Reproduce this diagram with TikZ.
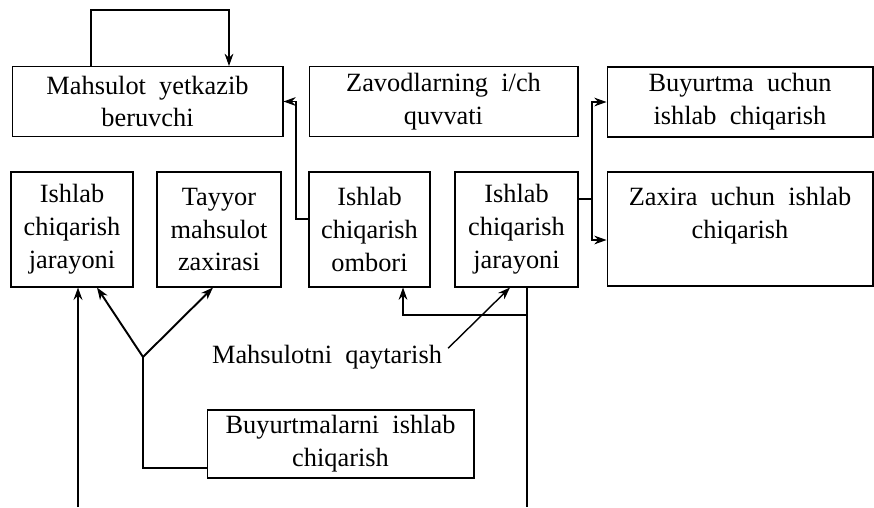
\documentclass[tikz,border=0pt]{standalone}
\usepackage{fontspec}
\setmainfont{Liberation Serif}
\usetikzlibrary{arrows.meta}

\newcommand{\widespace}{\spaceskip=0.5em plus 0.1em\relax}

\tikzset{
  box/.style={draw, line width=0.6pt, align=center, inner sep=2pt},
  wide/.style={box, minimum width=5.38cm, minimum height=1.40cm},
  tall/.style={box, minimum width=2.44cm, minimum height=2.30cm},
  conn/.style={line width=0.6pt},
  arr/.style={conn, -{Stealth[length=7pt,width=5pt]}},
  heavy/.style={line width=1.1pt, -{Stealth[length=7pt,width=5pt]}},
}

\begin{document}
\begin{tikzpicture}[x=0.02cm, y=-0.02cm,
    font=\fontsize{15}{18.7}\selectfont\widespace]
  \useasboundingbox (0,0) rectangle (874,507);

  % top row
  \node[wide, minimum width=5.42cm] (supplier) at (147.5,101.5) {Mahsulot yetkazib\\beruvchi};
  \node[wide] (capacity) at (443.5,101.5) {Zavodlarning i/ch\\quvvati};
  \node[wide, minimum width=5.32cm] (order) at (740,102) {Buyurtma uchun\\ishlab chiqarish};

  % middle row
  \node[tall] (procL) at (72,229.5) {Ishlab\\chiqarish\\jarayoni};
  \node[tall, minimum width=2.48cm] (ready) at (219,229.5) {Tayyor\\mahsulot\\zaxirasi};
  \node[tall, minimum width=2.42cm] (store) at (369.5,229.5) {Ishlab\\chiqarish\\ombori};
  \node[tall, minimum width=2.46cm] (procR) at (516.5,229.5) {Ishlab\\chiqarish\\jarayoni};
  \node[box, minimum width=5.32cm, minimum height=2.28cm] (stock) at (740,229)
    {Zaxira uchun ishlab\\chiqarish\\\mbox{}};

  % bottom
  \node (ret) at (327,357) {Mahsulotni qaytarish};
  \node[wide, minimum width=5.34cm, minimum height=1.36cm] (orders) at (340.5,444)
    {Buyurtmalarni ishlab\\chiqarish};

  % helper points
  \coordinate (loopL) at (91,10);
  \coordinate (loopR) at (229,10);
  \coordinate (jL) at (296,219);
  \coordinate (jR) at (592,199);
  \coordinate (jS) at (592,240);
  \coordinate (fork) at (143,357);
  \coordinate (forkB) at (143,468);
  \coordinate (botL) at (78,507);
  \coordinate (botR) at (527,507);
  \coordinate (jB) at (527,315);
  \coordinate (jB2) at (403,315);

  % connectors
  \draw[arr] (supplier.north -| loopL) -- (loopL) -- (loopR) -- (supplier.north -| loopR);
  \draw[arr] (store.west |- jL) -- (jL) -- (jL |- supplier.east) -- (supplier.east);
  \draw[conn] (procR.east |- jR) -- (jR);
  \draw[arr] (jR) |- (order.west);
  \draw[arr] (jR) -- (jS) -- (jS -| stock.west);

  \draw[heavy] (fork) -- (97,0 |- procL.south);
  \draw[heavy] (fork) -- (213,0 |- ready.south);
  \draw[conn] (fork) -- (forkB) -- (forkB -| orders.west);
  \draw[heavy] (botL) -- (botL |- procL.south);

  \draw[heavy, line width=0.8pt] ([yshift=5pt]ret.east) -- (510,0 |- procR.south);
  \draw[conn] (botR |- procR.south) -- (botR);
  \draw[arr] (jB) -- (jB2) -- (jB2 |- store.south);
\end{tikzpicture}
\end{document}
